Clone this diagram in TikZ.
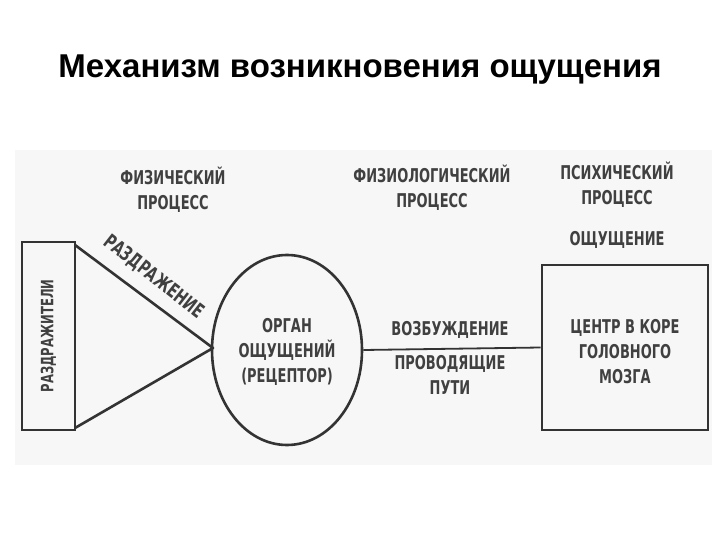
\documentclass[tikz,border=0pt]{standalone}
\usepackage{fontspec}
\setmainfont{Liberation Sans}
\newfontfamily\djfont[FakeStretch=0.76]{DejaVu Sans Condensed}
\usetikzlibrary{shapes.geometric}
\begin{document}
\begin{tikzpicture}[x=1pt,y=-1pt,
  lbl/.style={font=\djfont\bfseries\fontsize{19}{25}\selectfont,align=center,text=black!75,inner sep=1pt},
  ln/.style={line width=2.6pt,black!80}]
\useasboundingbox (0,0) rectangle (720,540);
\fill[black!3] (15,150) rectangle (712,465);
\node[font=\bfseries\fontsize{33}{38}\selectfont] (title) at (360,70) {Механизм возникновения ощущения};
\node[ln,draw,minimum width=53pt,minimum height=188pt,inner sep=0] (stim) at (48.5,336) {};
\node[lbl,rotate=90,font=\djfont\bfseries\fontsize{17}{20}\selectfont] (stimt) at (48.5,336) {РАЗДРАЖИТЕЛИ};
\coordinate (tip) at (213,348);
\coordinate (t1) at (75,245);
\coordinate (t2) at (75,428);
\draw[ln,line join=round] (t1) -- (tip) -- (t2);
\node[ln,draw,ellipse,minimum width=150pt,minimum height=190pt,inner sep=0] (organ) at (287,350) {};
\node[lbl] (organt) at (287,352) {ОРГАН\\ОЩУЩЕНИЙ\\(РЕЦЕПТОР)};
\node[ln,draw,minimum width=166pt,minimum height=165pt,inner sep=0] (center) at (625,347.5) {};
\node[lbl] (centert) at (625,352) {ЦЕНТР В КОРЕ\\ГОЛОВНОГО\\МОЗГА};
\draw[line width=1.8pt,black!80] (organ.east) -- (center.west);
\node[lbl] (p1) at (173,190) {ФИЗИЧЕСКИЙ\\ПРОЦЕСС};
\node[lbl] (p2) at (432,188) {ФИЗИОЛОГИЧЕСКИЙ\\ПРОЦЕСС};
\node[lbl] (p3) at (617,185) {ПСИХИЧЕСКИЙ\\ПРОЦЕСС};
\node[lbl] (sens) at (617,240) {ОЩУЩЕНИЕ};
\node[lbl] (exc) at (450,330) {ВОЗБУЖДЕНИЕ};
\node[lbl] (path) at (450,375) {ПРОВОДЯЩИЕ\\ПУТИ};
\node[lbl,rotate=-38,font=\djfont\bfseries\fontsize{20}{24}\selectfont] (irr) at (154,277) {РАЗДРАЖЕНИЕ};
\end{tikzpicture}
\end{document}
